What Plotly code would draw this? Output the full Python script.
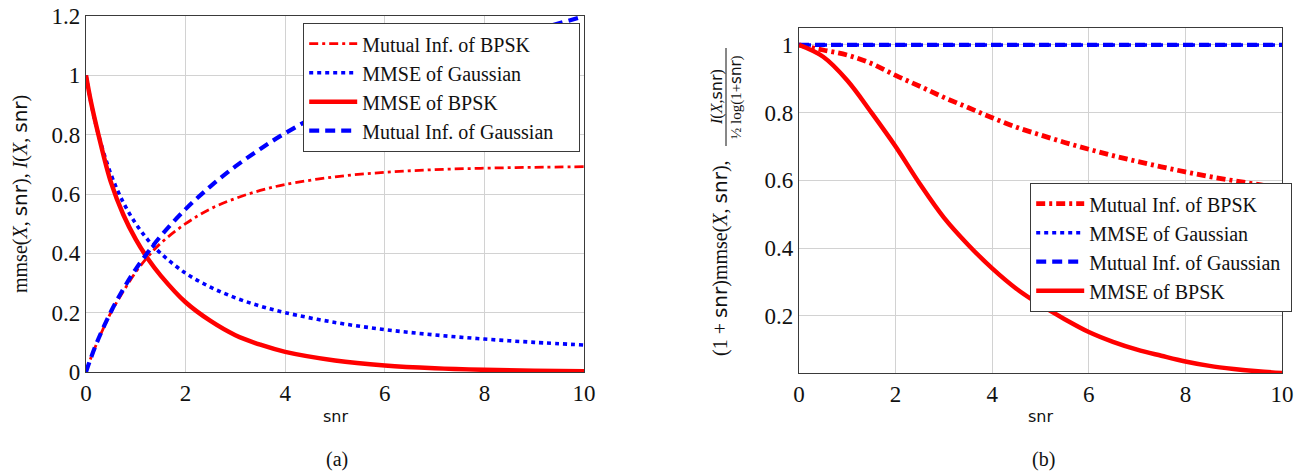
import plotly.graph_objects as go

W, H = 1301, 472

# ---------------- data ----------------
# panel (a)
snr_a = [0, 0.1, 0.25, 0.5, 0.75, 1, 1.25, 1.5, 2, 2.5, 3, 3.5, 4, 5, 6, 7, 8, 9, 10]
mi_bpsk_a = [0, 0.048, 0.11, 0.20, 0.272, 0.337, 0.39, 0.434, 0.50, 0.55, 0.585, 0.612,
             0.632, 0.658, 0.673, 0.682, 0.687, 0.690, 0.692]
mmse_gauss_a = [1, 0.909, 0.8, 0.667, 0.571, 0.5, 0.444, 0.4, 0.333, 0.286, 0.25, 0.222,
                0.2, 0.167, 0.143, 0.125, 0.111, 0.1, 0.091]
mmse_bpsk_a = [1, 0.91, 0.80, 0.64, 0.53, 0.447, 0.38, 0.325, 0.235, 0.172, 0.124, 0.092,
               0.068, 0.039, 0.022, 0.0125, 0.0073, 0.0045, 0.0028]
mi_gauss_a = [0, 0.048, 0.112, 0.203, 0.28, 0.347, 0.405, 0.458, 0.549, 0.626, 0.693, 0.752,
              0.805, 0.896, 0.973, 1.04, 1.099, 1.151, 1.199]

# panel (b)
snr_b = [0, 0.5, 1, 1.5, 2, 2.5, 3, 3.5, 4, 4.5, 5, 5.5, 6, 6.5, 7, 7.5, 8, 8.5, 9, 9.5, 10]
mi_bpsk_b = [1, 0.985, 0.97, 0.945, 0.91, 0.878, 0.845, 0.815, 0.785, 0.757, 0.734, 0.712,
             0.692, 0.673, 0.656, 0.64, 0.625, 0.611, 0.599, 0.588, 0.577]
mmse_bpsk_b = [1, 0.965, 0.895, 0.80, 0.70, 0.59, 0.49, 0.41, 0.34, 0.28, 0.232, 0.19,
               0.152, 0.123, 0.1, 0.082, 0.065, 0.052, 0.043, 0.036, 0.031]
snr_flat = [0, 10]
mmse_gauss_b = [1, 1]
mi_gauss_b = [1, 1]

x_ticks = [0, 2, 4, 6, 8, 10]
x_ticktext = ["0", "2", "4", "6", "8", "10"]
ya_ticks = [0, 0.2, 0.4, 0.6, 0.8, 1, 1.2]
ya_ticktext = ["0", "0.2", "0.4", "0.6", "0.8", "1", "1.2"]
yb_ticks = [0.2, 0.4, 0.6, 0.8, 1]
yb_ticktext = ["0.2", "0.4", "0.6", "0.8", "1"]

RED = "#ff0000"
BLUE = "#0000ff"
SERIF = "Liberation Serif"
SANS = "DejaVu Sans"

DOT = "4px,4px"
DASH = "10px,6px"
DASHDOT = "9px,4px,3px,4px"
NB = "\u00a0"

fig = go.Figure()

# ---- panel (a)
fig.add_trace(go.Scatter(x=snr_a, y=mi_bpsk_a, name="Mutual Inf. of BPSK", mode="lines",
                         line=dict(color=RED, width=2.8, dash=DASHDOT, shape="spline"),
                         xaxis="x", yaxis="y", legend="legend"))
fig.add_trace(go.Scatter(x=snr_a, y=mmse_gauss_a, name="MMSE of Gaussian", mode="lines",
                         line=dict(color=BLUE, width=3.6, dash=DOT, shape="spline"),
                         xaxis="x", yaxis="y", legend="legend"))
fig.add_trace(go.Scatter(x=snr_a, y=mmse_bpsk_a, name="MMSE of BPSK", mode="lines",
                         line=dict(color=RED, width=4.5, shape="spline"),
                         xaxis="x", yaxis="y", legend="legend"))
fig.add_trace(go.Scatter(x=snr_a, y=mi_gauss_a, name="Mutual Inf. of Gaussian" + NB * 4,
                         mode="lines",
                         line=dict(color=BLUE, width=4.2, dash=DASH, shape="spline"),
                         xaxis="x", yaxis="y", legend="legend"))

# ---- panel (b)
fig.add_trace(go.Scatter(x=snr_b, y=mi_bpsk_b, name="Mutual Inf. of BPSK", mode="lines",
                         line=dict(color=RED, width=4.8, dash=DASHDOT, shape="spline"),
                         xaxis="x2", yaxis="y2", legend="legend2"))
fig.add_trace(go.Scatter(x=snr_flat, y=mmse_gauss_b, name="MMSE of Gaussian", mode="lines",
                         line=dict(color=BLUE, width=3.6, dash=DOT),
                         xaxis="x2", yaxis="y2", legend="legend2"))
fig.add_trace(go.Scatter(x=snr_flat, y=mi_gauss_b, name="Mutual Inf. of Gaussian" + NB,
                         mode="lines", line=dict(color=BLUE, width=4.2, dash=DASH),
                         xaxis="x2", yaxis="y2", legend="legend2"))
fig.add_trace(go.Scatter(x=snr_b, y=mmse_bpsk_b, name="MMSE of BPSK", mode="lines",
                         line=dict(color=RED, width=4.5, shape="spline"),
                         xaxis="x2", yaxis="y2", legend="legend2"))


def px_x(p):
    return p / W


def px_y(p):
    return 1 - p / H


axis_common = dict(showline=True, mirror=True, linecolor="#3a3a3a", linewidth=1.3,
                   showgrid=True, gridcolor="#d2d2d2", gridwidth=1, zeroline=False,
                   automargin=False,
                   ticks="", tickfont=dict(family=SERIF, size=23, color="#111"))

fig.update_layout(
    width=W, height=H,
    margin=dict(l=0, r=0, t=0, b=0, pad=0, autoexpand=False),
    paper_bgcolor="white", plot_bgcolor="white",
    xaxis=dict(domain=[px_x(86), px_x(584)], range=[0, 10], tickvals=x_ticks,
               ticktext=x_ticktext, anchor="y", **axis_common),
    yaxis=dict(domain=[px_y(372), px_y(16)], range=[0, 1.2], tickvals=ya_ticks,
               ticktext=ya_ticktext, anchor="x", **axis_common),
    xaxis2=dict(domain=[px_x(799), px_x(1282)], range=[0, 10], tickvals=x_ticks,
                ticktext=x_ticktext, anchor="y2", **axis_common),
    yaxis2=dict(domain=[px_y(373), px_y(28)], range=[0.031, 1.05], tickvals=yb_ticks,
                ticktext=yb_ticktext, anchor="x2", **axis_common),
    legend=dict(x=px_x(303), y=px_y(23), xanchor="left", yanchor="top",
                bgcolor="white", bordercolor="#3a3a3a", borderwidth=1.2,
                font=dict(family=SERIF, size=20, color="#111"), itemwidth=48,
                tracegroupgap=0),
    legend2=dict(x=px_x(1030), y=px_y(183), xanchor="left", yanchor="top",
                 bgcolor="white", bordercolor="#3a3a3a", borderwidth=1.2,
                 font=dict(family=SERIF, size=20, color="#111"), itemwidth=48,
                 tracegroupgap=0),
    showlegend=True,
)

snr_span = "<span style='font-family:DejaVu Sans'>snr</span>"
ann = []
# x titles
ann.append(dict(text="snr", x=px_x(335), y=px_y(416), xref="paper", yref="paper",
                showarrow=False, font=dict(family=SANS, size=16, color="#111"),
                xanchor="center", yanchor="middle"))
ann.append(dict(text="snr", x=px_x(1040), y=px_y(416), xref="paper", yref="paper",
                showarrow=False, font=dict(family=SANS, size=16, color="#111"),
                xanchor="center", yanchor="middle"))
# captions
ann.append(dict(text="(a)", x=px_x(337), y=px_y(459), xref="paper", yref="paper",
                showarrow=False, font=dict(family=SERIF, size=20, color="#111"),
                xanchor="center", yanchor="middle"))
ann.append(dict(text="(b)", x=px_x(1043), y=px_y(459), xref="paper", yref="paper",
                showarrow=False, font=dict(family=SERIF, size=20, color="#111"),
                xanchor="center", yanchor="middle"))
# left y title
ann.append(dict(text="mmse(<i>X</i>, " + snr_span + "), <i>I</i>(<i>X</i>, " + snr_span + ")",
                x=px_x(20), y=px_y(194), xref="paper", yref="paper", textangle=-90,
                showarrow=False, font=dict(family=SERIF, size=20, color="#111"),
                xanchor="center", yanchor="middle"))
# right y title (main part)
ann.append(dict(text="(1 + " + snr_span + ")mmse(<i>X</i>, " + snr_span + "),",
                x=px_x(720), y=px_y(258), xref="paper", yref="paper", textangle=-90,
                showarrow=False, font=dict(family=SERIF, size=20, color="#111"),
                xanchor="center", yanchor="middle"))
# fraction numerator / denominator
ann.append(dict(text="<i>I</i>(<i>X</i>," + snr_span + ")",
                x=px_x(716), y=px_y(97), xref="paper", yref="paper", textangle=-90,
                showarrow=False, font=dict(family=SERIF, size=16, color="#111"),
                xanchor="center", yanchor="middle"))
ann.append(dict(text="½ log(1+" + snr_span + ")",
                x=px_x(736), y=px_y(97), xref="paper", yref="paper", textangle=-90,
                showarrow=False, font=dict(family=SERIF, size=15, color="#111"),
                xanchor="center", yanchor="middle"))
fig.update_layout(annotations=ann)

fig.add_shape(type="line", xref="paper", yref="paper",
              x0=px_x(726), x1=px_x(726), y0=px_y(48), y1=px_y(146),
              line=dict(color="#111", width=1))

fig.write_html("out.html")
